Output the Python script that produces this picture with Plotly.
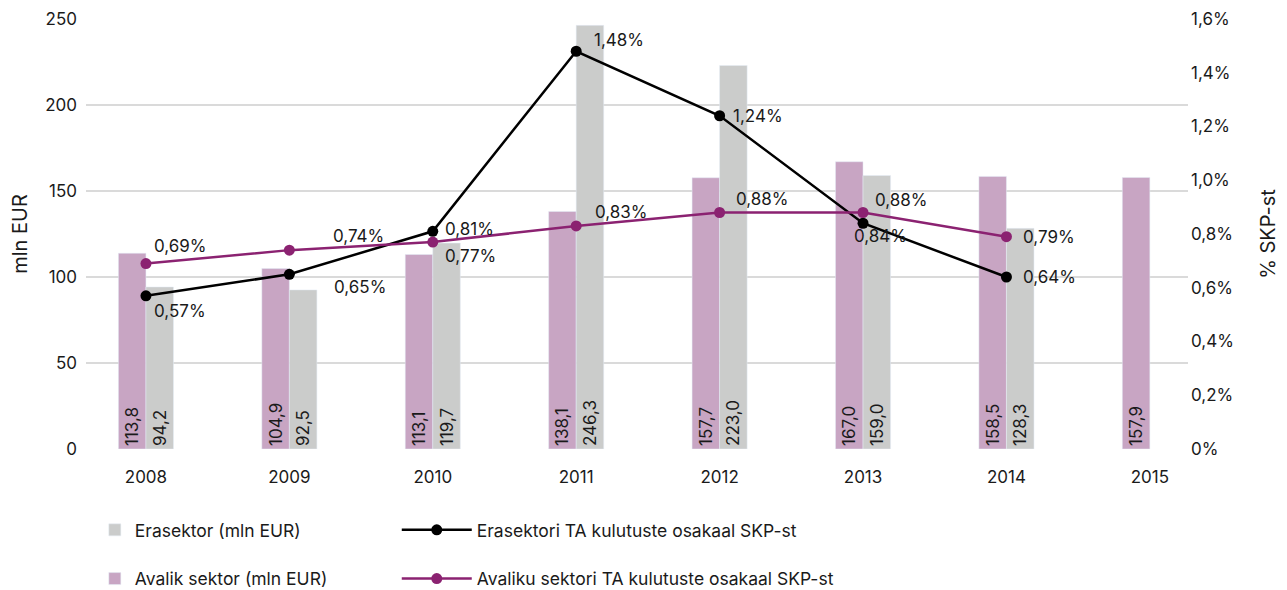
import plotly.graph_objects as go

# data
years = [2008, 2009, 2010, 2011, 2012, 2013, 2014, 2015]
avalik = [113.8, 104.9, 113.1, 138.1, 157.7, 167.0, 158.5, 157.9]
erasektor = [94.2, 92.5, 119.7, 246.3, 223.0, 159.0, 128.3, None]
era_pct = [0.57, 0.65, 0.81, 1.48, 1.24, 0.84, 0.64]
aval_pct = [0.69, 0.74, 0.77, 0.83, 0.88, 0.88, 0.79]
pct_ticks = [0, 0.2, 0.4, 0.6, 0.8, 1.0, 1.2, 1.4, 1.6]
pct_ticktext = ["0%", "0,2%", "0,4%", "0,6%", "0,8%", "1,0%", "1,2%", "1,4%", "1,6%"]

# label offsets in px (left edge of text relative to point)
era_shift = [(6, -15), (43, -13), (10, 2), (16, 11), (11, 0), (-11, -13), (15, 0)]
aval_shift = [(6, 18), (42, 14), (10, -14), (17, 14), (14, 14), (10, 13), (15, 0)]

FONT = "Inter, Roboto, sans-serif"
FS = 17
TXT = "#1a1a1a"
GREY = "#CBCCCB"
PINK = "#C8A5C3"
PURPLE = "#8B2271"


def fmt(v, suffix=""):
    return ("%.1f" % v).replace(".", ",") + suffix


fig = go.Figure()

fig.add_bar(
    x=years, y=avalik, name="Avalik sektor (mln EUR)",
    marker_color=PINK, width=0.192, offset=-0.192,
    text=[fmt(v) for v in avalik], textangle=-90, textposition="inside",
    insidetextanchor="start", textfont=dict(size=FS, color=TXT, family=FONT),
    legend="legend", legendgroup="b2", legendrank=2,
)
fig.add_bar(
    x=years, y=erasektor, name="Erasektor (mln EUR)",
    marker_color=GREY, width=0.192, offset=0,
    text=[fmt(v) if v is not None else "" for v in erasektor], textangle=-90,
    textposition="inside", insidetextanchor="start",
    textfont=dict(size=FS, color=TXT, family=FONT),
    legend="legend", legendgroup="b1", legendrank=1,
)

fig.add_scatter(
    x=years[:len(era_pct)], y=era_pct, yaxis="y2", mode="lines+markers",
    name="Erasektori TA kulutuste osakaal SKP-st",
    line=dict(color="black", width=2.5), marker=dict(size=11, color="black"),
    legend="legend2", legendgroup="l1", legendrank=1,
)
fig.add_scatter(
    x=years[:len(aval_pct)], y=aval_pct, yaxis="y2", mode="lines+markers",
    name="Avaliku sektori TA kulutuste osakaal SKP-st",
    line=dict(color=PURPLE, width=2.5), marker=dict(size=11, color=PURPLE),
    legend="legend2", legendgroup="l2", legendrank=2,
)

for vals, shifts in ((era_pct, era_shift), (aval_pct, aval_shift)):
    for x, v, (dx, dy) in zip(years, vals, shifts):
        fig.add_annotation(
            x=x, y=v, yref="y2", text=("%.2f" % v).replace(".", ",") + "%",
            showarrow=False, xanchor="left", yanchor="middle",
            xshift=dx, yshift=dy, font=dict(size=FS, color=TXT, family=FONT),
        )

# page body has an 8px margin, so the figure is 8px smaller than the window
fig.update_layout(
    width=1279, height=582,
    margin=dict(l=78, r=99, t=11, b=141, autoexpand=False),
    plot_bgcolor="white", paper_bgcolor="white",
    font=dict(family=FONT, size=FS, color=TXT),
    barmode="overlay",
    xaxis=dict(
        range=[2007.582, 2015.266], tickvals=years, ticktext=[str(y) for y in years],
        showgrid=False, zeroline=False, showline=False, ticks="",
        ticklabelstandoff=16,
    ),
    yaxis=dict(
        range=[0, 250], dtick=50, gridcolor="#DADADA", gridwidth=1.5,
        zeroline=False, ticks="", ticklabelstandoff=8,
        title=dict(text="mln EUR", standoff=12),
    ),
    yaxis2=dict(
        overlaying="y", side="right", range=[0, 1.6], tickvals=pct_ticks,
        ticktext=pct_ticktext, showgrid=False, zeroline=False, ticks="",
        ticklabelstandoff=2,
        title=dict(text="% SKP-st", standoff=28),
    ),
    legend=dict(
        x=0.008, y=-0.1465, xanchor="left", yanchor="top", orientation="v",
        tracegroupgap=23, bgcolor="rgba(0,0,0,0)", font=dict(size=17.5),
    ),
    legend2=dict(
        x=0.282, y=-0.1465, xanchor="left", yanchor="top", orientation="v",
        tracegroupgap=23, bgcolor="rgba(0,0,0,0)", itemwidth=70,
        font=dict(size=17.5),
    ),
)

fig.write_html("out.html")
